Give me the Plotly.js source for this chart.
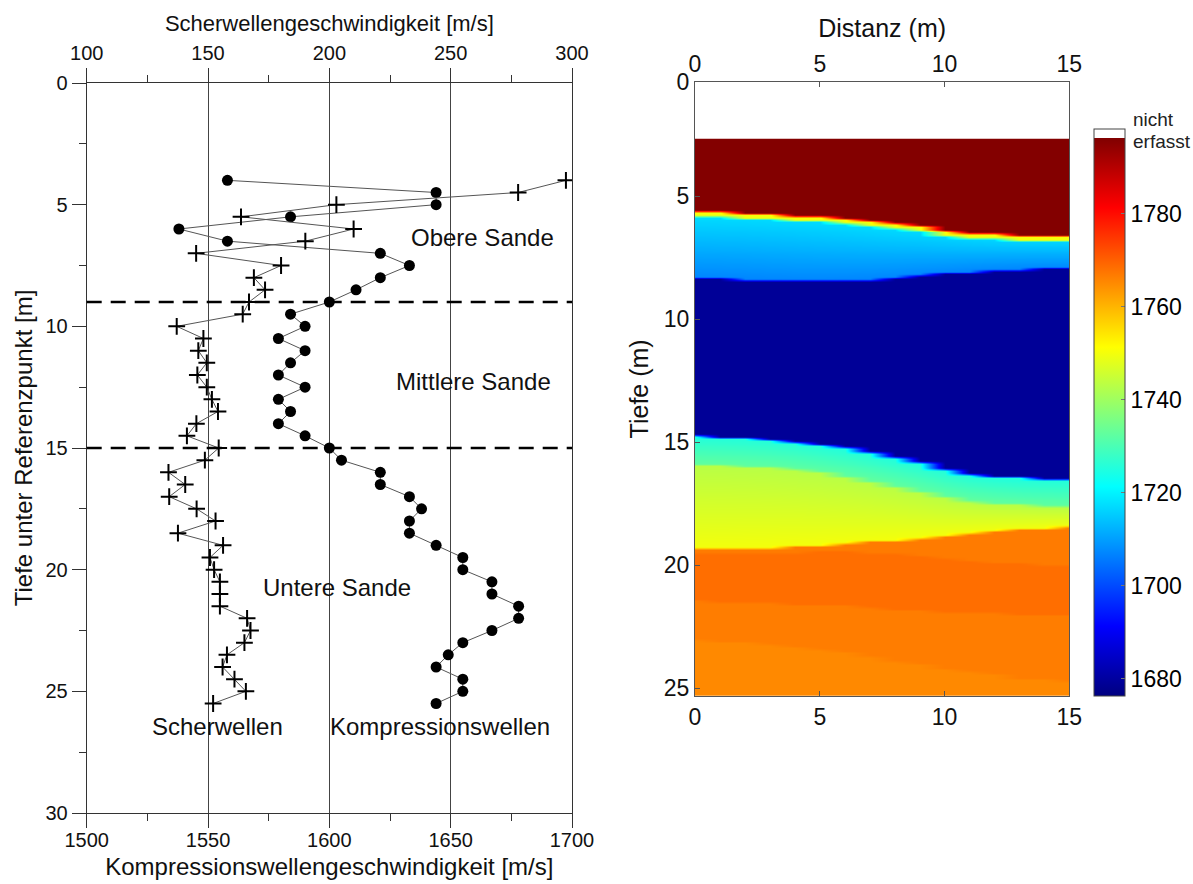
<!DOCTYPE html>
<html>
<head>
<meta charset="utf-8">
<script src="https://cdn.plot.ly/plotly-3.0.1.min.js"></script>
<style>html,body{margin:0;padding:0;background:#fff;}#chart{width:1193px;height:884px;}</style>
</head>
<body>
<div id="chart"></div>
<script>
// ---------- Left panel: velocity profiles ----------
const depthP = [4,4.5,5,5.5,6,6.5,7,7.5,8,8.5,9,9.5,10,10.5,11,11.5,12,12.5,13,13.5,14,14.5,15,15.5,16,16.5,17,17.5,18,18.5,19,19.5,20,20.5,21,21.5,22,22.5,23,23.5,24,24.5,25,25.5];
const vpComp = [1558,1644,1644,1584,1538,1558,1621,1633,1621,1611,1600,1584,1590,1579,1590,1584,1579,1590,1579,1584,1579,1590,1600,1605,1621,1621,1633,1638,1633,1633,1644,1655,1655,1667,1667,1678,1678,1667,1655,1649,1644,1655,1655,1644];
const depthS = [4,4.5,5,5.5,6,6.5,7,7.5,8,8.5,9,9.5,10,10.5,11,11.5,12,12.5,13,13.5,14,14.5,15,15.5,16,16.5,17,17.5,18,18.5,19,19.5,20,20.5,21,21.5,22,22.5,23,23.5,24,24.5,25,25.5];
const vsShear = [297.5,277.8,202.9,163.6,210.0,190.1,145.1,180.1,168.9,173.5,166.9,164.3,137.1,148.1,146.0,149.5,145.6,149.5,151.6,154.1,145.2,141.3,154.4,148.7,133.7,140.6,134.0,145.3,153.1,137.6,156.2,150.8,152.5,154.9,154.9,154.9,166.1,167.5,165.0,157.8,156.0,160.9,165.6,152.1];
const layerBoundaries = [9, 15];
const layerLabels = ['Obere Sande','Mittlere Sande','Untere Sande','Scherwellen','Kompressionswellen'];
const layerLabelVp = [1663, 1659.6, 1603.3, 1554, 1645.6];
const layerLabelDepth = [6.33, 12.25, 20.74, 26.46, 26.46];

// ---------- Right panel: tomography section ----------
const distCols = [0,1,2,3,4,5,6,7,8,9,10,11,12,13,14,15];
const notCapturedDepth = 2.58;
const redBase    = [5.63,5.64,5.66,5.70,5.76,5.84,5.93,6.03,6.13,6.23,6.36,6.46,6.53,6.58,6.62,6.64];
const cyanBase   = [8.30,8.33,8.36,8.40,8.42,8.42,8.40,8.36,8.30,8.22,8.14,8.06,8.00,7.96,7.93,7.92];
const blueBase   = [14.74,14.76,14.80,14.86,14.96,15.08,15.23,15.42,15.63,15.85,16.10,16.28,16.38,16.44,16.48,16.50];
const greenBase  = [15.90,15.93,15.97,16.03,16.12,16.25,16.40,16.58,16.78,17.00,17.22,17.38,17.48,17.55,17.60,17.63];
const yellowBase = [19.35,19.33,19.30,19.26,19.21,19.16,19.10,19.03,18.96,18.88,18.79,18.69,18.60,18.53,18.47,18.43];
const orangeTopBase = [19.55,19.53,19.50,19.48,19.46,19.45,19.45,19.47,19.52,19.60,19.70,19.80,19.88,19.95,20.00,20.05];
const orangeMidBase = [21.45,21.47,21.50,21.53,21.56,21.60,21.65,21.72,21.78,21.84,21.88,21.92,21.95,21.97,21.99,22.00];
const orangeLowBase = [23.05,23.10,23.15,23.22,23.30,23.42,23.55,23.72,23.88,24.03,24.18,24.32,24.45,24.56,24.64,24.70];
const vNotCaptured = 1798;
const vUpper = 1796;
const vRim = 1750;
const rimThickness = 0.2;
const vCyanTop = 1718, vCyanBottom = 1707;
const vDeepBlue = 1679;
const vLowTop = 1725, vLowUpper = 1733, vLowMid = 1743, vLowBottom = 1750;
const vOrange = [1766.8, 1768.4, 1766.6, 1765.2];
const cbTicks = [1680,1700,1720,1740,1760,1780];
const zMin = 1676.3, zJetMax = 1796.3, zMax = 1798.2;
const secTopDepth = 0.34, secBottomDepth = 25.31;
const distTicks = [0, 5, 10, 15];

function lerp(a, b, t) { return a + (b - a) * Math.max(0, Math.min(1, t)); }
function sectionValue(c, d) {
  if (d < notCapturedDepth) return vNotCaptured;
  if (d < redBase[c]) return vUpper;
  if (d < redBase[c] + rimThickness) return vRim;
  if (d < cyanBase[c]) return lerp(vCyanTop, vCyanBottom, (d - redBase[c]) / (cyanBase[c] - redBase[c]));
  if (d < blueBase[c]) return vDeepBlue;
  if (d < greenBase[c]) return lerp(vLowTop, vLowUpper, (d - blueBase[c]) / (greenBase[c] - blueBase[c]));
  if (d < yellowBase[c]) return lerp(vLowMid, vLowBottom, (d - greenBase[c]) / (yellowBase[c] - greenBase[c]));
  if (d < orangeTopBase[c]) return vOrange[0];
  if (d < orangeMidBase[c]) return vOrange[1];
  if (d < orangeLowBase[c]) return vOrange[2];
  return vOrange[3];
}
const rowDepths = [];
for (let i = 0; i <= 250; i++) rowDepths.push(+(0.35 + 0.1 * i).toFixed(2));
const zGrid = rowDepths.map(d => distCols.map((x, c) => sectionValue(c, d)));

const k = (zJetMax - zMin) / (zMax - zMin);
const jetScale = [
  [0, 'rgb(0,0,128)'], [0.125 * k, 'rgb(0,0,255)'], [0.375 * k, 'rgb(0,255,255)'],
  [0.625 * k, 'rgb(255,255,0)'], [0.875 * k, 'rgb(255,0,0)'], [k, 'rgb(128,0,0)'],
  [k + 0.0005, 'rgb(255,255,255)'], [1, 'rgb(255,255,255)']
];

const FONT = 'Liberation Sans, Arial, sans-serif';
const W = 1193, H = 884;
const px = v => v / W, py = v => 1 - v / H;

const traces = [
  {
    type: 'scatter', mode: 'lines+markers', x: vpComp, y: depthP, xaxis: 'x', yaxis: 'y',
    line: {color: '#555', width: 1},
    marker: {symbol: 'circle', size: 11, color: '#000'}, hoverinfo: 'x+y'
  },
  {
    type: 'scatter', mode: 'lines+markers', x: vsShear, y: depthS, xaxis: 'x2', yaxis: 'y',
    line: {color: '#555', width: 1},
    marker: {symbol: 'cross-thin', size: 12, color: '#000', line: {color: '#000', width: 2}}, hoverinfo: 'x+y'
  },
  {
    type: 'heatmap', x: distCols, y: rowDepths, z: zGrid, xaxis: 'x3', yaxis: 'y3',
    zmin: zMin, zmax: zMax, colorscale: jetScale, zsmooth: 'best',
    colorbar: {
      x: px(1093.5), xanchor: 'left', y: py(412.5), yanchor: 'middle',
      thickness: 31, thicknessmode: 'pixels', len: 567, lenmode: 'pixels',
      xpad: 0, ypad: 0, outlinewidth: 1, outlinecolor: '#444',
      tickvals: cbTicks, ticks: 'inside', ticklen: 4, tickcolor: '#777',
      tickfont: {family: FONT, size: 23, color: '#000'}
    }
  },
  {
    // carries the top distance axis of the section
    type: 'scatter', mode: 'markers', x: [], y: [], xaxis: 'x4', yaxis: 'y3',
    hoverinfo: 'skip', showlegend: false
  }
];

const tickFontL = {family: FONT, size: 20, color: '#111'};
const tickFontR = {family: FONT, size: 23, color: '#111'};
const titleFontR = {family: FONT, size: 25, color: '#111'};

const annotations = layerLabels.map((t, i) => ({
  text: t, x: layerLabelVp[i], y: layerLabelDepth[i], xref: 'x', yref: 'y',
  showarrow: false, xanchor: 'center', yanchor: 'middle',
  font: {family: FONT, size: 24, color: '#111'}
}));
annotations.push(
  {text: 'nicht', x: px(1131), y: py(120), xref: 'paper', yref: 'paper', xanchor: 'left', yanchor: 'middle', showarrow: false, font: {family: FONT, size: 19, color: '#222'}},
  {text: 'erfasst', x: px(1131), y: py(141), xref: 'paper', yref: 'paper', xanchor: 'left', yanchor: 'middle', showarrow: false, font: {family: FONT, size: 19, color: '#222'}}
);

const shapes = layerBoundaries.map(d => ({
  type: 'line', xref: 'x domain', yref: 'y', x0: 0, x1: 1, y0: d, y1: d,
  line: {color: '#000', width: 2.5, dash: '15px,9px'}
}));

const layout = {
  width: W, height: H, margin: {l: 0, r: 0, t: 0, b: 0},
  paper_bgcolor: '#fff', plot_bgcolor: '#fff', showlegend: false,
  font: {family: FONT, color: '#111'},
  xaxis: {
    domain: [px(86.7), px(572)], anchor: 'y', range: [1500, 1700], tick0: 1500, dtick: 50,
    ticks: 'outside', ticklen: 14, tickcolor: '#333', tickwidth: 1, ticklabelstandoff: -5,
    minor: {dtick: 25, ticks: 'outside', ticklen: 7, tickcolor: '#333', showgrid: false},
    showline: true, linecolor: '#333', linewidth: 1,
    showgrid: true, gridcolor: '#444', gridwidth: 1, zeroline: false,
    tickfont: tickFontL,
    title: {text: 'Kompressionswellengeschwindigkeit [m/s]', font: {family: FONT, size: 24, color: '#111'}, standoff: 8}
  },
  xaxis2: {
    overlaying: 'x', side: 'top', anchor: 'y', range: [100, 300], tick0: 100, dtick: 50,
    ticks: 'outside', ticklen: 14, tickcolor: '#333', tickwidth: 1, ticklabelstandoff: 0,
    minor: {dtick: 25, ticks: 'outside', ticklen: 7, tickcolor: '#333', showgrid: false},
    showline: true, linecolor: '#333', linewidth: 1, showgrid: false, zeroline: false,
    tickfont: tickFontL,
    title: {text: 'Scherwellengeschwindigkeit [m/s]', font: {family: FONT, size: 22, color: '#111'}, standoff: 4}
  },
  yaxis: {
    domain: [py(813), py(83)], anchor: 'x', range: [30, 0], tick0: 0, dtick: 5,
    ticks: 'outside', ticklen: 14, tickcolor: '#333', tickwidth: 1,
    minor: {dtick: 2.5, ticks: 'outside', ticklen: 7, tickcolor: '#333', showgrid: false},
    showline: true, mirror: true, linecolor: '#333', linewidth: 1,
    showgrid: false, zeroline: false, tickfont: tickFontL,
    title: {text: 'Tiefe unter Referenzpunkt [m]', font: {family: FONT, size: 24, color: '#111'}, standoff: 6}
  },
  xaxis3: {
    domain: [px(695), px(1069.3)], anchor: 'y3', range: [0, 15], tickvals: distTicks,
    ticks: 'inside', ticklen: 5, tickcolor: '#555', showline: true, mirror: true,
    linecolor: '#555', linewidth: 1, showgrid: false, zeroline: false, tickfont: tickFontR
  },
  xaxis4: {
    overlaying: 'x3', side: 'top', anchor: 'y3', range: [0, 15], tickvals: distTicks,
    ticks: 'inside', ticklen: 5, tickcolor: '#555', showline: true, linecolor: '#555',
    showgrid: false, zeroline: false, tickfont: tickFontR,
    title: {text: 'Distanz (m)', font: titleFontR, standoff: 5}
  },
  yaxis3: {
    domain: [py(696), py(81.7)], anchor: 'x3', range: [secBottomDepth, secTopDepth],
    tickvals: [secTopDepth, 5, 10, 15, 20, 25], ticktext: ['0', '5', '10', '15', '20', '25'],
    ticks: 'inside', ticklen: 5, tickcolor: '#555', showline: true, mirror: true,
    linecolor: '#555', linewidth: 1, showgrid: false, zeroline: false, tickfont: tickFontR,
    title: {text: 'Tiefe (m)', font: titleFontR, standoff: 8}
  },
  annotations: annotations,
  shapes: shapes
};

Plotly.newPlot('chart', traces, layout, {displayModeBar: false, staticPlot: true});
</script>
</body>
</html>
